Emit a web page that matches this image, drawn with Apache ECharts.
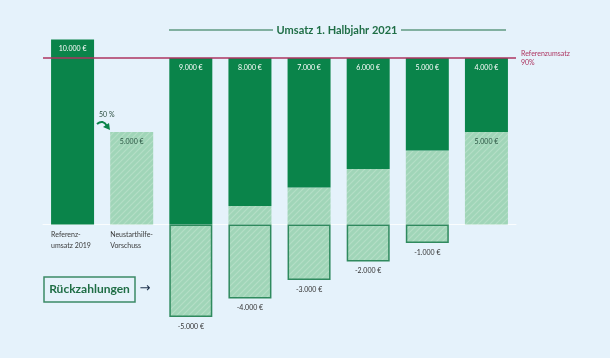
<!DOCTYPE html>
<html><head><meta charset="utf-8">
<script src="https://cdn.jsdelivr.net/npm/echarts@6/dist/echarts.min.js"></script>
<style>html,body{margin:0;padding:0;background:#e5f2fb;}#c{width:610px;height:358px;}</style>
</head><body><div id="c"></div>
<script>
const categories = ['Referenz-\numsatz 2019', 'Neustarthilfe-\nVorschuss', '', '', '', '', '', ''];
const advanceShare = [null, 5000, 0, 1000, 2000, 3000, 4000, 5000];
const revenue = [10000, null, 9000, 8000, 7000, 6000, 5000, 4000];
const repayments = [null, null, -5000, -4000, -3000, -2000, -1000, null];
const referenceLine = 9000;
const advanceLabelIdx = [1, 7];

function fmt(v){ const s = Math.abs(v).toString().replace(/\B(?=(\d{3})+(?!\d))/g, '.'); return (v < 0 ? '-' : '') + s + ' €'; }

const cv = document.createElement('canvas'); cv.width = 6; cv.height = 6;
const cx = cv.getContext('2d');
cx.fillStyle = '#a0d5b8'; cx.fillRect(0,0,6,6);
cx.strokeStyle = '#b4dec6'; cx.lineWidth = 1.2;
cx.beginPath(); cx.moveTo(-1,7); cx.lineTo(7,-1); cx.moveTo(-1,1); cx.lineTo(1,-1); cx.moveTo(5,7); cx.lineTo(7,5); cx.stroke();
const hatch = {image: cv, repeat: 'repeat'};

const FONT = 'Lato';
const chart = echarts.init(document.getElementById('c'), null, {renderer: 'canvas'});
chart.setOption({
  backgroundColor: '#e5f2fb',
  animation: false,
  textStyle: {fontFamily: FONT},
  grid: {left: 43, right: 94, top: 39.5, bottom: 22.5, containLabel: false},
  xAxis: {
    type: 'category', data: categories, position: 'bottom', offset: -111,
    axisLine: {show: true, onZero: false, lineStyle: {color: 'rgba(255,255,255,0.8)', width: 1}},
    axisTick: {show: false},
    axisLabel: {interval: 0, margin: 5, formatter: v => v ? '{a|' + v + '}' : '',
      rich: {a: {width: 43, align: 'left', fontSize: 7, lineHeight: 11, color: '#3a3a3a', fontFamily: FONT}}}
  },
  yAxis: {type: 'value', min: -6000, max: 10000, show: false, splitLine: {show: false}},
  series: [
    {type: 'bar', stack: 'a', barWidth: 43,
     data: advanceShare.map((v, i) => ({value: v, label: {show: advanceLabelIdx.includes(i)}})),
     itemStyle: {color: hatch},
     label: {position: 'insideTop', distance: 6, fontSize: 7, color: '#2a5442', formatter: p => fmt(p.value)}},
    {type: 'bar', stack: 'a', barWidth: 43, data: revenue,
     itemStyle: {color: '#0a844a'},
     label: {show: true, position: 'insideTop', distance: 6, fontSize: 7, color: '#ffffff', formatter: p => fmt(p.value)},
     markLine: {silent: true, symbol: 'none', z: 10,
       lineStyle: {color: '#ad3560', width: 1.5, type: 'solid'},
       label: {show: true, position: 'end', distance: 5, formatter: 'Referenzumsatz\n90%', color: '#ad3560', fontSize: 7, lineHeight: 9, align: 'left', fontFamily: FONT},
       data: [{yAxis: referenceLine}]}},
    {type: 'bar', stack: 'a', barWidth: 43, data: repayments,
     itemStyle: {color: hatch, borderColor: '#2f8a5e', borderWidth: 1.5},
     label: {show: true, position: 'bottom', distance: 6, fontSize: 7, color: '#333', formatter: p => fmt(p.value)}}
  ],
  graphic: [
    {type: 'line', shape: {x1: 169, y1: 30, x2: 273, y2: 30}, style: {stroke: '#1f6e46', lineWidth: 1.2}},
    {type: 'line', shape: {x1: 401, y1: 30, x2: 506, y2: 30}, style: {stroke: '#1f6e46', lineWidth: 1.2}},
    {type: 'text', x: 337, y: 30, style: {text: 'Umsatz 1. Halbjahr 2021', fontFamily: FONT, fontWeight: 'bold', fontSize: 11, fill: '#1f6e46', align: 'center', verticalAlign: 'middle'}},
    {type: 'text', x: 99, y: 115, style: {text: '50 %', fontFamily: FONT, fontSize: 7, fill: '#2d4f40', align: 'left', verticalAlign: 'middle'}},
    {type: 'bezierCurve', shape: {x1: 97, y1: 124, cpx1: 103, cpy1: 119, x2: 107, y2: 126}, style: {stroke: '#0a844a', lineWidth: 2, fill: null}},
    {type: 'polygon', shape: {points: [[103,127],[110,130],[109,123]]}, style: {fill: '#0a844a'}},
    {type: 'rect', shape: {x: 44, y: 277, width: 91, height: 25}, style: {stroke: '#3b8a67', lineWidth: 1.5, fill: null}},
    {type: 'text', x: 89.5, y: 289.5, style: {text: 'Rückzahlungen', fontFamily: FONT, fontWeight: 'bold', fontSize: 12, fill: '#1f6e46', align: 'center', verticalAlign: 'middle'}},
    {type: 'text', x: 145, y: 289, style: {text: '→', fontFamily: 'DejaVu Sans', fontSize: 13, fill: '#1b2f4a', align: 'center', verticalAlign: 'middle'}}
  ]
});
</script></body></html>
